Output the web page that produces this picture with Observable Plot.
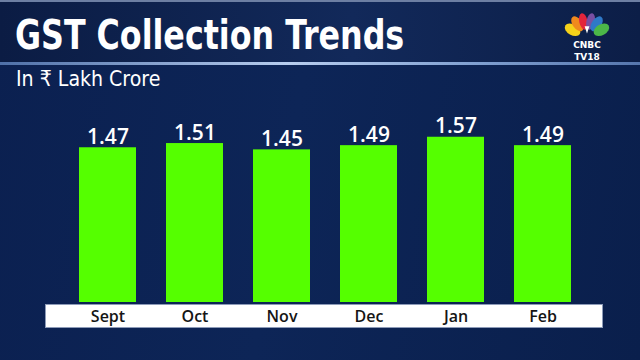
<!DOCTYPE html>
<html>
<head>
<meta charset="utf-8">
<script src="https://cdn.jsdelivr.net/npm/d3@7"></script>
<script src="https://cdn.jsdelivr.net/npm/@observablehq/plot@0.6"></script>
<style>
  html, body { margin: 0; padding: 0; }
  body { width: 640px; height: 360px; overflow: hidden; position: relative;
         background: linear-gradient(100deg, #0b2050 0%, #0d2557 45%, #0a1f4c 100%); }
  #header { position: absolute; left: 0; top: 0; width: 640px; height: 62px;
            background: linear-gradient(90deg, #0b1c44 0%, #12295a 55%, #0c1e47 100%);
            border-top: 2px solid #6d7fa3; box-sizing: border-box; }
  #line { position: absolute; left: 0; top: 62px; width: 640px; height: 3px;
          background: linear-gradient(90deg, #4f70a8 0%, #b7cdef 45%, #7f9fd0 75%, #5676ad 100%); }
  #title { position: absolute; left: 15px; top: 11px; color: #fff;
           font-family: "DejaVu Sans Condensed", "Liberation Sans Narrow", sans-serif;
           font-weight: bold; font-size: 41px; line-height: 48px; white-space: nowrap;
           transform: scaleX(0.86); transform-origin: 0 0; }
  #subtitle { position: absolute; left: 16px; top: 65px; color: #fff;
              font-family: "DejaVu Sans Condensed", "Liberation Sans Narrow", sans-serif;
              font-size: 22px; line-height: 28px; white-space: nowrap;
              transform: scaleX(0.96); transform-origin: 0 0; }
  #strip { position: absolute; left: 45px; top: 304px; width: 558px; height: 24px;
           background: #fff; border: 1px solid #8d9bb8; box-sizing: border-box; }
  #chart { position: absolute; left: 0; top: 100px; }
  #logo { position: absolute; left: 559px; top: 10px; }
</style>
</head>
<body>
<div id="header"></div>
<div id="line"></div>
<div id="title">GST Collection Trends</div>
<div id="subtitle">In ₹ Lakh Crore</div>
<svg id="logo" width="56" height="52" viewBox="0 0 56 52">
  <g transform="translate(28,27) scale(1.2)">
    <ellipse cx="-12" cy="-6" rx="4.5" ry="7" fill="#f5d21a" transform="rotate(-60 -12 -6)"/>
    <ellipse cx="-8" cy="-11" rx="4" ry="7" fill="#f08a1d" transform="rotate(-35 -8 -11)"/>
    <ellipse cx="-3" cy="-13" rx="3.5" ry="7" fill="#e3253b" transform="rotate(-12 -3 -13)"/>
    <ellipse cx="3" cy="-13" rx="3.5" ry="7" fill="#7a4fa3" transform="rotate(12 3 -13)"/>
    <ellipse cx="8" cy="-11" rx="4" ry="7" fill="#2f79c8" transform="rotate(35 8 -11)"/>
    <ellipse cx="12" cy="-6" rx="4.5" ry="7" fill="#4cb748" transform="rotate(60 12 -6)"/>
    <path d="M0,-3 L-2,-9 L2,-9 Z" fill="#fff"/>
  </g>
  <text x="28" y="38" text-anchor="middle" fill="#fff" font-family="DejaVu Sans, sans-serif" font-weight="bold" font-size="9">CNBC</text>
  <text x="28" y="50" text-anchor="middle" fill="#fff" font-family="DejaVu Sans, sans-serif" font-weight="bold" font-size="9">TV18</text>
</svg>
<div id="strip"></div>
<div id="chart"></div>
<script>
const months = ["Sept", "Oct", "Nov", "Dec", "Jan", "Feb"];
const values = [1.47, 1.51, 1.45, 1.49, 1.57, 1.49];

const data = months.map((m, i) => ({month: m, value: values[i]}));

const chart = Plot.plot({
  width: 640,
  height: 260,
  marginTop: 2,
  marginBottom: 58,
  marginLeft: 63,
  marginRight: 54,
  style: {background: "transparent", fontFamily: "'Open Sans', sans-serif", overflow: "visible"},
  x: {domain: months, paddingInner: 0.345, paddingOuter: 0.1725},
  y: {domain: [0, 1.9], axis: null},
  marks: [
    Plot.barY(data, {x: "month", y: "value", fill: "#55ff00"}),
    Plot.text(data, {x: "month", y: "value", text: d => d.value.toFixed(2), dy: -4,
      lineAnchor: "bottom", fill: "#fff", fontSize: 21, fontWeight: 600}),
    Plot.axisX({tickSize: 0, tickPadding: 8, fontSize: 16, fill: "#151515", fontWeight: 600, label: null})
  ]
});
document.getElementById("chart").appendChild(chart);
</script>
</body>
</html>
